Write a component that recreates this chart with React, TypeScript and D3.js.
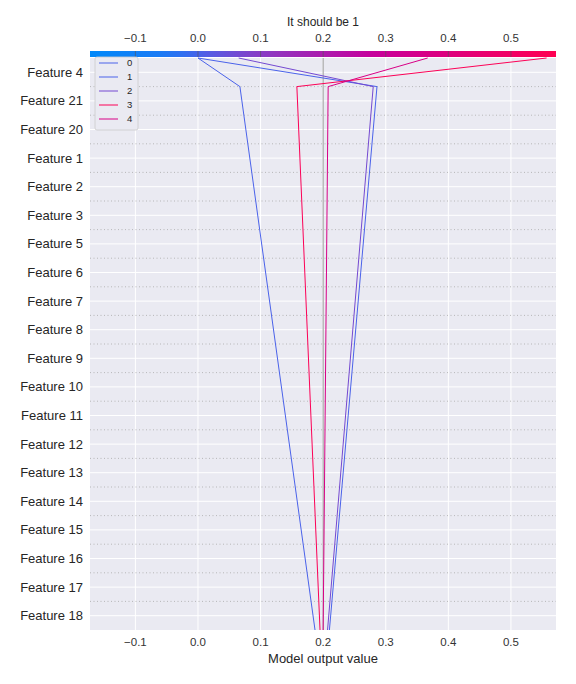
import React from "react";
import * as d3 from "d3";

const features = ["Feature 4","Feature 21","Feature 20","Feature 1","Feature 2","Feature 3","Feature 5","Feature 6","Feature 7","Feature 8","Feature 9","Feature 10","Feature 11","Feature 12","Feature 13","Feature 14","Feature 15","Feature 16","Feature 17","Feature 18"];
const ticks = [-0.1, 0, 0.1, 0.2, 0.3, 0.4, 0.5];
const baseValue = 0.2;
const seriesNames = ["0","1","2","3","4"];
// cumulative values at boundaries: bottom, below Feature 4, top
const boundaryIdx = [0, 19, 20];
const line0 = [0.187, 0.067, 0.0];
const line1 = [0.21, 0.286, 0.0];
const line2 = [0.207, 0.28, 0.065];
const line3 = [0.195, 0.158, 0.557];
const line4 = [0.2, 0.208, 0.367];
const lines = [line0, line1, line2, line3, line4];

const W = 576, H = 684;
const L = 90, R = 556, T = 58, B = 630;

export default function App() {
  const x = d3.scaleLinear().domain([-0.1725, 0.572]).range([L, R]);
  const n = features.length;
  const yb = d3.scaleLinear().domain([0, n]).range([B, T]);
  const cmap = d3.scaleLinear<string>().domain([-0.1725, -0.04, 0.0, 0.1, 0.28, 0.572])
    .range(["#0088fa", "#1f78f4", "#4a62ea", "#8a3cc4", "#c7009c", "#ff0052"]).interpolate(d3.interpolateRgb);
  const lineGen = d3.line<[number, number]>().x(d => x(d[1])).y(d => yb(d[0]));
  const stops = d3.range(0, 1.0001, 0.05);
  return (
    <svg width={W} height={H} style={{ position: "absolute", left: 0, top: 0, fontFamily: "Liberation Sans, Arial, sans-serif" }}>
      <defs>
        <linearGradient id="cb" x1="0" x2="1" y1="0" y2="0">
          {stops.map(s => <stop key={s} offset={s} stopColor={cmap(-0.1725 + s * (0.572 + 0.1725))} />)}
        </linearGradient>
      </defs>
      <rect x={L} y={T} width={R - L} height={B - T} fill="#eaeaf2" />
      {ticks.map(t => <line key={"v" + t} x1={x(t)} x2={x(t)} y1={T} y2={B} stroke="#fff" strokeWidth={1} />)}
      {features.map((f, i) => {
        const y = yb(n - i - 0.5);
        return <line key={"h" + f} x1={L} x2={R} y1={y} y2={y} stroke="#fff" strokeWidth={1} />;
      })}
      {d3.range(1, n).map(k => <line key={"d" + k} x1={L} x2={R} y1={yb(k)} y2={yb(k)} stroke="#aaa" strokeWidth={0.8} strokeDasharray="1,2.5" />)}
      <line x1={x(baseValue)} x2={x(baseValue)} y1={T} y2={B} stroke="#999" strokeWidth={1} />
      {lines.map((v, i) => (
        <path key={i} d={lineGen(v.map((val, j) => [boundaryIdx[j], val]))!} fill="none" stroke={cmap(v[v.length - 1])} strokeWidth={1} />
      ))}
      <rect x={L} y={51} width={R - L} height={6} fill="url(#cb)" />
      {features.map((f, i) => (
        <text key={"l" + f} x={83} y={yb(n - i - 0.5)} dy="0.35em" textAnchor="end" fontSize={13} fill="#262626">{f}</text>
      ))}
      {ticks.map(t => (
        <g key={"t" + t}>
          <text x={x(t)} y={646} textAnchor="middle" fontSize={11.5} fill="#333">{t < 0 ? "\u2212" + Math.abs(t).toFixed(1) : t.toFixed(1)}</text>
          <text x={x(t)} y={42} textAnchor="middle" fontSize={11.5} fill="#333">{t < 0 ? "\u2212" + Math.abs(t).toFixed(1) : t.toFixed(1)}</text>
          <line x1={x(t)} x2={x(t)} y1={51} y2={57} stroke="#555" strokeWidth={0.6} />
        </g>
      ))}
      <text x={(L + R) / 2} y={26} textAnchor="middle" fontSize={12} fill="#262626">It should be 1</text>
      <text x={(L + R) / 2} y={663} textAnchor="middle" fontSize={13} fill="#262626">Model output value</text>
      <rect x={95} y={57} width={43} height={73} rx={2} fill="#eaeaf2" stroke="#ccc" strokeWidth={0.8} />
      {seriesNames.map((s, i) => (
        <g key={"lg" + s}>
          <line x1={99} x2={118} y1={63 + i * 14} y2={63 + i * 14} stroke={cmap(lines[i][lines[i].length - 1])} strokeWidth={1} />
          <text x={127} y={63 + i * 14} dy="0.35em" fontSize={9.5} fill="#262626">{s}</text>
        </g>
      ))}
    </svg>
  );
}
